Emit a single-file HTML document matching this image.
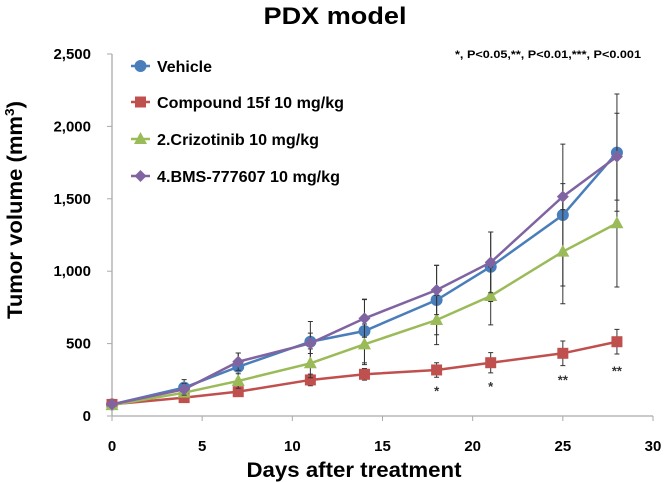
<!DOCTYPE html>
<html><head><meta charset="utf-8"><style>
html,body{margin:0;padding:0;background:#fff;}
svg{display:block;font-family:"Liberation Sans",sans-serif;}
</style></head><body>
<svg id="chart" width="666" height="482" viewBox="0 0 666 482" xmlns="http://www.w3.org/2000/svg">
<text x="335" y="24" text-anchor="middle" font-size="24" font-weight="bold" textLength="143" lengthAdjust="spacingAndGlyphs">PDX model</text>
<text x="548" y="58" text-anchor="middle" font-size="11" font-weight="bold" textLength="186" lengthAdjust="spacingAndGlyphs">*, P&lt;0.05,**, P&lt;0.01,***, P&lt;0.001</text>
<text transform="translate(22,210) rotate(-90)" text-anchor="middle" font-size="21" font-weight="bold" textLength="218" lengthAdjust="spacingAndGlyphs">Tumor volume (mm<tspan font-size="13" dy="-8">3</tspan><tspan dy="8">)</tspan></text>
<text x="354" y="477" text-anchor="middle" font-size="21" font-weight="bold" textLength="215" lengthAdjust="spacingAndGlyphs">Days after treatment</text>
<g id="axes"></g><g id="series"></g><g id="legend"></g>
</svg>
<script>
const days=[0,4,7,11,14,18,21,25,28];
const vehicle=[80,196,340,513,587,801,1031,1388,1819];
const vehicleErr=[0,55,95,140,220,240,240,490,405];
const compound=[80,127,168,249,288,318,368,433,513];
const compoundErr=[0,20,30,40,40,50,70,85,85];
const crizotinib=[75,161,242,364,495,663,829,1135,1331];
const crizotinibErr=[0,30,50,100,140,170,200,360,440];
const bms=[80,184,375,502,674,870,1061,1515,1791];
const bmsErr=[0,40,60,70,130,170,210,90,300];
const xTicks=[0,5,10,15,20,25,30];
const yTicks=[0,500,1000,1500,2000,2500];
const yTickLabels=["0","500","1,000","1,500","2,000","2,500"];
const starDays=[18,21,25,28];
const starLabels=["*","*","**","**"];
const starValues=[184,214,260,322];
const legendLabels=["Vehicle","Compound  15f 10 mg/kg","2.Crizotinib 10 mg/kg","4.BMS-777607 10 mg/kg"];

const NS="http://www.w3.org/2000/svg";
const X0=112,X1=653,Y0=416,Y1=54;
const sx=v=>X0+(v/30)*(X1-X0);
const sy=v=>Y0-(v/2500)*(Y0-Y1);
function mk(tag,attrs,parent){const e=document.createElementNS(NS,tag);for(const k in attrs)e.setAttribute(k,attrs[k]);parent.appendChild(e);return e;}
const axes=document.getElementById('axes');
let a=mk('line',{x1:X0,y1:Y0,x2:X1,y2:Y0,stroke:'#aaa','stroke-width':1.3},axes);


a=mk('line',{x1:X0,y1:Y0,x2:X0,y2:Y1,stroke:'#aaa','stroke-width':1.3},axes);


xTicks.forEach(t=>{
 mk('line',{x1:sx(t),y1:Y0,x2:sx(t),y2:Y0+5,stroke:'#aaa'},axes);
 const tx=mk('text',{x:sx(t),y:451,'text-anchor':'middle','font-size':15,'font-weight':'bold'},axes);
 tx.textContent=t;
 
 
});
yTicks.forEach((t,i)=>{
 mk('line',{x1:X0-5,y1:sy(t),x2:X0,y2:sy(t),stroke:'#aaa'},axes);
 const tx=mk('text',{x:91,y:sy(t)+5,'text-anchor':'end','font-size':15,'font-weight':'bold'},axes);
 tx.textContent=yTickLabels[i];
 
 
});
const series=[
 {name:'vehicle',vals:vehicle,err:vehicleErr,color:'#4a7ebb',m:'circle'},
 {name:'compound-15f',vals:compound,err:compoundErr,color:'#c0504d',m:'square'},
 {name:'crizotinib',vals:crizotinib,err:crizotinibErr,color:'#9bbb59',m:'triangle'},
 {name:'bms-777607',vals:bms,err:bmsErr,color:'#8064a2',m:'diamond'}];
const sg=document.getElementById('series');
function marker(m,x,y,c,p){
 if(m==='circle')return mk('circle',{cx:x,cy:y,r:6,fill:c},p);
 if(m==='square')return mk('rect',{x:x-5.5,y:y-5.5,width:11,height:11,fill:c},p);
 if(m==='triangle')return mk('polygon',{points:`${x},${y-7} ${x+6.5},${y+5} ${x-6.5},${y+5}`,fill:c},p);
 return mk('polygon',{points:`${x},${y-6} ${x+6},${y} ${x},${y+6} ${x-6},${y}`,fill:c},p);
}
series.forEach(s=>{
 const g=mk('g',{},sg);
 
 
 days.forEach((d,i)=>{ if(!s.err[i])return;
  const x=sx(d);
  const eb=mk('path',{d:`M${x},${sy(s.vals[i]+s.err[i])}V${sy(s.vals[i]-s.err[i])}M${x-2.5},${sy(s.vals[i]+s.err[i])}h5M${x-2.5},${sy(s.vals[i]-s.err[i])}h5`,stroke:'#333','stroke-width':1,fill:'none'},g);
  
  
 });
 const ln=mk('polyline',{points:days.map((d,i)=>sx(d)+','+sy(s.vals[i])).join(' '),fill:'none',stroke:s.color,'stroke-width':2.5},g);
 
 
 days.forEach((d,i)=>{const mm=marker(s.m,sx(d),sy(s.vals[i]),s.color,g);
  
  });
});
starDays.forEach((d,i)=>{
 const t=mk('text',{x:sx(d),y:sy(starValues[i])+6,'text-anchor':'middle','font-size':13,'font-weight':'bold',fill:'#333'},sg);
 t.textContent=starLabels[i];
 
 
});
const lg=document.getElementById('legend');
const rowY=[66,102,139,176];const tlen=[55,187,162,183];
series.forEach((s,i)=>{
 const g=mk('g',{},lg);
 
 
 mk('line',{x1:131,y1:rowY[i],x2:150,y2:rowY[i],stroke:s.color,'stroke-width':2.5},g);
 marker(s.m,140.5,rowY[i],s.color,g);
 const t=mk('text',{x:157,y:rowY[i]+6,'font-size':16,'font-weight':'bold',textLength:tlen[i],lengthAdjust:'spacingAndGlyphs'},g);
 t.textContent=legendLabels[i];
});
</script>
</body></html>
